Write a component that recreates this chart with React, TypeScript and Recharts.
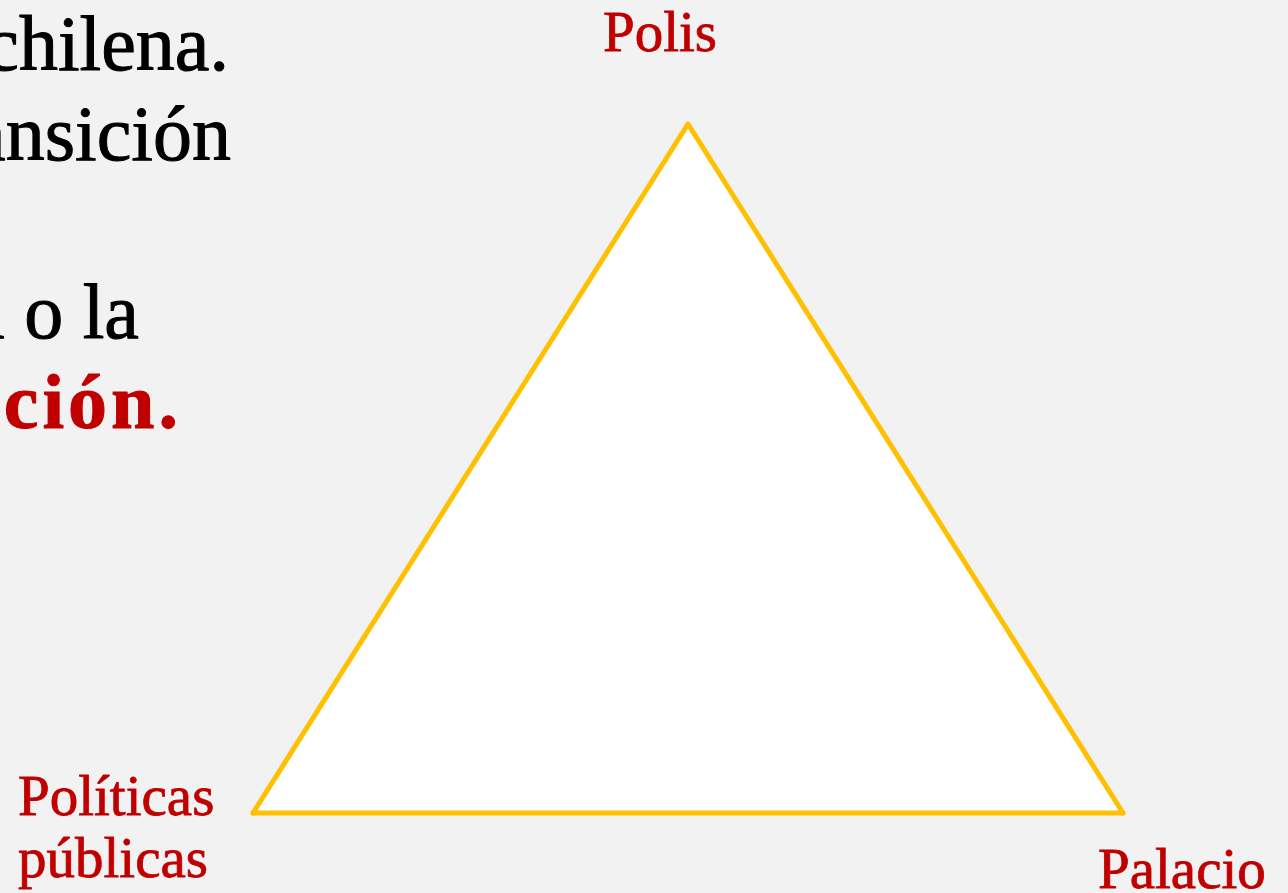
import { ComposedChart, Area, XAxis, YAxis } from 'recharts';

// triangle vertices, left to right
const vertexNames = ['Políticas públicas', 'Polis', 'Palacio'];
const vertexX = [0, 50, 100];
const vertexTop = [0, 100, 0];
const vertexBase = [0, 0, 0];

// text on the left that is cut off by the slide edge
const sideLines = ['la chilena.', 'la transición', 'a o la', 'ción.'];

const rows = vertexX.map((x, i) => ({
  x,
  name: vertexNames[i],
  range: [vertexBase[i], vertexTop[i]],
}));

const RED = '#C00000';
const YELLOW = '#FFC000';
const SERIF = '"Liberation Serif", "DejaVu Serif", serif';

// where each label sits relative to its vertex
const labelOffsets = [
  { dx: -235, dy: 2, anchor: 'start' },
  { dx: -28, dy: -73, anchor: 'middle' },
  { dx: -25, dy: 75, anchor: 'start' },
];

const sideStyle = [
  { x: 229, y: 70, color: '#000', weight: 400, spacing: 0 },
  { x: 231, y: 160, color: '#000', weight: 400, spacing: 0 },
  { x: 139, y: 338, color: '#000', weight: 400, spacing: 0 },
  { x: 182, y: 428, color: RED, weight: 700, spacing: 4 },
];

const renderVertexLabel = (props: any) => {
  const { x, y, index } = props;
  const off = labelOffsets[index];
  const words = vertexNames[index].split(' ');
  return (
    <text
      key={index}
      x={x + off.dx}
      y={y + off.dy}
      textAnchor={off.anchor}
      fill={RED}
      stroke={RED}
      strokeWidth={0.8}
      fontFamily={SERIF}
      fontSize={57}
    >
      {words.map((w, i) => (
        <tspan key={w} x={x + off.dx} dy={i === 0 ? 0 : 62}>
          {w}
        </tspan>
      ))}
    </text>
  );
};

export default function App() {
  return (
    <div
      style={{
        position: 'absolute',
        left: 0,
        top: 0,
        width: 1288,
        height: 893,
        background: '#F2F2F2',
        overflow: 'hidden',
      }}
    >
      <ComposedChart
        width={1288}
        height={893}
        data={rows}
        margin={{ top: 124, right: 165, bottom: 80, left: 253 }}
      >
        <XAxis type="number" dataKey="x" domain={[0, 100]} hide />
        <YAxis type="number" domain={[0, 100]} hide />
        <Area
          type="linear"
          dataKey="range"
          stroke={YELLOW}
          strokeWidth={5}
          strokeLinejoin="round"
          strokeLinecap="round"
          fill="#FFFFFF"
          fillOpacity={1}
          dot={false}
          activeDot={false}
          label={renderVertexLabel}
          isAnimationActive={false}
        />
      </ComposedChart>
      <svg
        width={1288}
        height={893}
        style={{ position: 'absolute', left: 0, top: 0, pointerEvents: 'none' }}
      >
        {sideLines.map((line, i) => (
          <text
            key={line}
            x={sideStyle[i].x}
            y={sideStyle[i].y}
            textAnchor="end"
            fill={sideStyle[i].color}
            stroke={sideStyle[i].color}
            strokeWidth={1}
            fontWeight={sideStyle[i].weight}
            letterSpacing={sideStyle[i].spacing}
            fontFamily={SERIF}
            fontSize={78}
          >
            {line}
          </text>
        ))}
      </svg>
    </div>
  );
}
